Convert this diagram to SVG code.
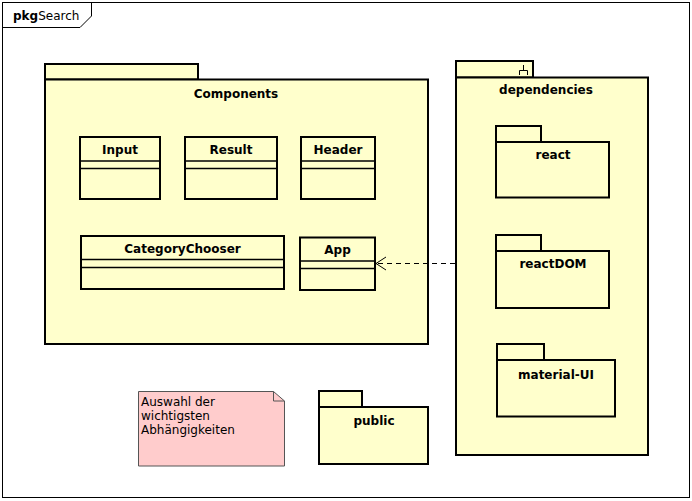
<svg xmlns="http://www.w3.org/2000/svg" width="692" height="501" viewBox="0 0 692 501">
<style>
.pk{fill:#FFFFCC;stroke:#000;stroke-width:2}
.cl{fill:#FFFFCC;stroke:#000;stroke-width:2}
.ln{stroke:#000;stroke-width:1.5;fill:none}
.t{font-family:"DejaVu Sans",sans-serif;font-size:12px;font-weight:bold;text-anchor:middle;fill:#000}
.n{font-family:"DejaVu Sans",sans-serif;font-size:12px;fill:#000}
</style>
<rect x="0" y="0" width="692" height="501" fill="#fff"/>
<g id="frame">
<rect x="2.5" y="2.5" width="687" height="495" fill="#fff" stroke="#000" stroke-width="1"/>
<path d="M2.5,27.5 H80 L91.5,16 V2.5" fill="none" stroke="#000" stroke-width="1"/>
<text x="13" y="20" class="n" font-size="13"><tspan font-weight="bold">pkg</tspan>Search</text>
</g>
<g id="Components">
<rect class="pk" x="45" y="64" width="153" height="15.5"/>
<rect class="pk" x="45" y="79.5" width="383" height="264.5"/>
<text class="t" x="236" y="98">Components</text>
</g>
<g id="Input">
<rect class="cl" x="80" y="137" width="80" height="62"/>
<path class="ln" d="M80,161 H160 M80,168.5 H160"/>
<text class="t" x="120" y="154">Input</text>
</g>
<g id="Result">
<rect class="cl" x="185" y="137" width="92" height="62"/>
<path class="ln" d="M185,161 H277 M185,168.5 H277"/>
<text class="t" x="231" y="154">Result</text>
</g>
<g id="Header">
<rect class="cl" x="301" y="137" width="74" height="62"/>
<path class="ln" d="M301,161 H375 M301,168.5 H375"/>
<text class="t" x="338" y="154">Header</text>
</g>
<g id="CategoryChooser">
<rect class="cl" x="81" y="236" width="203" height="53"/>
<path class="ln" d="M81,259.5 H284 M81,267.5 H284"/>
<text class="t" x="182.5" y="253">CategoryChooser</text>
</g>
<g id="App">
<rect class="cl" x="300" y="237.5" width="75" height="52.5"/>
<path class="ln" d="M300,261 H375 M300,268.5 H375"/>
<text class="t" x="337.5" y="254">App</text>
</g>
<g id="dependencies">
<rect class="pk" x="456" y="61" width="77" height="16.5"/>
<rect class="pk" x="456" y="77.5" width="192" height="377.5"/>
<path d="M523.5,65 V70.5 M519.5,75 V70.5 H527.5 V75" fill="none" stroke="#000" stroke-width="1"/>
<text class="t" x="546" y="94">dependencies</text>
</g>
<g id="react">
<rect class="pk" x="496" y="126" width="45" height="16"/>
<rect class="pk" x="496" y="142" width="113" height="55.5"/>
<text class="t" x="553" y="159">react</text>
</g>
<g id="reactDOM">
<rect class="pk" x="496" y="235" width="45" height="16"/>
<rect class="pk" x="496" y="251" width="113" height="57"/>
<text class="t" x="553" y="268">reactDOM</text>
</g>
<g id="material-UI">
<rect class="pk" x="497" y="344" width="47" height="16"/>
<rect class="pk" x="497" y="360" width="118" height="56.5"/>
<text class="t" x="556" y="379">material-UI</text>
</g>
<g id="public">
<rect class="pk" x="319" y="391" width="43" height="16"/>
<rect class="pk" x="319" y="407" width="109" height="57"/>
<text class="t" x="374" y="425">public</text>
</g>
<g id="note">
<path d="M138.5,391.5 H273.5 L284.5,401 V466 H138.5 Z" fill="#FFCCCC" stroke="#555" stroke-width="1"/>
<path d="M273.5,391.5 V401 H284.5" fill="none" stroke="#555" stroke-width="1"/>
<text class="n" x="141" y="406">Auswahl der</text>
<text class="n" x="141" y="420">wichtigsten</text>
<text class="n" x="141" y="434">Abhängigkeiten</text>
</g>
<g id="connectors">
<path d="M455,263.5 H377" fill="none" stroke="#000" stroke-width="1" stroke-dasharray="5,4"/>
<path d="M386,257 L376,263.5 L386,270" fill="none" stroke="#000" stroke-width="1"/>
</g>
</svg>
